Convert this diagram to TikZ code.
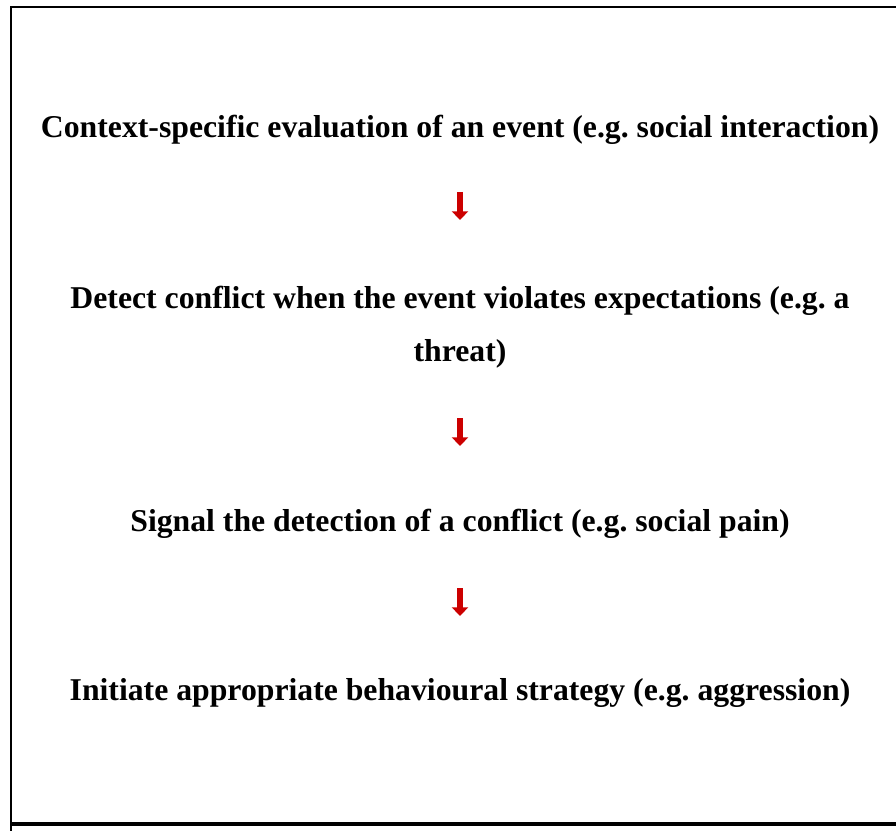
\documentclass[tikz,border=0pt]{standalone}
\usepackage{fontspec}
\setmainfont{Liberation Serif}
\usetikzlibrary{arrows.meta}
\definecolor{arrowred}{HTML}{CC0000}
\frenchspacing
\tikzset{
  stage/.style={font=\fontsize{23.8}{39.75}\selectfont\bfseries\frenchspacing, align=center, inner sep=0pt, text=black},
  redarrow/.style={draw=arrowred, line width=4.8pt, -{Triangle[width=12pt,length=6.5pt]}},
  frameline/.style={draw=black, line width=1.8pt}
}
\begin{document}
\begin{tikzpicture}[x=0.75pt,y=-0.75pt]
\useasboundingbox (0,0) rectangle (896,831);
\draw[frameline] (11,831) -- (11,7) -- (896,7);
\draw[draw=black, line width=2.4pt] (11,824) -- (896,824);
\node[stage] (s1) at (460,130) {Context-specific evaluation of an event (e.g. social interaction)};
\node[stage] (s2) at (460,327) {Detect conflict when the event violates expectations (e.g. a\\threat)};
\node[stage] (s3) at (460,524) {Signal the detection of a conflict (e.g. social pain)};
\node[stage] (s4) at (460,693) {Initiate appropriate behavioural strategy (e.g. aggression)};
\coordinate (a1s) at (460,192); \coordinate (a1e) at (460,220);
\coordinate (a2s) at (460,418); \coordinate (a2e) at (460,446);
\coordinate (a3s) at (460,588); \coordinate (a3e) at (460,616);
\draw[redarrow] (a1s) -- (a1e);
\draw[redarrow] (a2s) -- (a2e);
\draw[redarrow] (a3s) -- (a3e);
\end{tikzpicture}
\end{document}
